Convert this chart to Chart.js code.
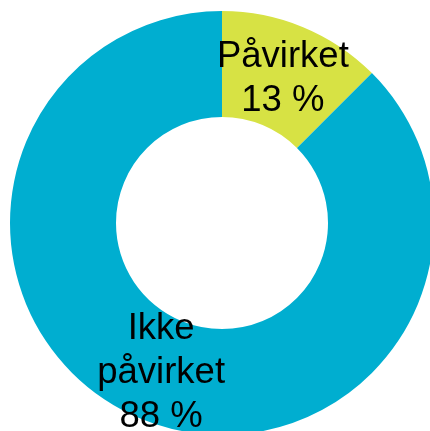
<!DOCTYPE html>
<html>
<head>
<meta charset="utf-8">
<script src="https://cdn.jsdelivr.net/npm/chart.js@4/dist/chart.umd.min.js"></script>
<style>
  html, body { margin: 0; padding: 0; background: #fff; overflow: hidden; }
  #wrap { width: 430px; height: 431px; overflow: hidden; position: relative; }
  canvas { position: absolute; left: 0; top: 0; }
</style>
</head>
<body>
<div id="wrap"><canvas id="donut" width="444" height="446"></canvas></div>
<script>
const categories = [['Påvirket'], ['Ikke', 'påvirket']];
const shares = [12.5, 87.5];
const colors = ['#d7e244', '#00aed0'];

// draws "name / NN %" in the middle of each ring segment
const sliceLabels = {
  id: 'sliceLabels',
  afterDatasetsDraw(chart) {
    const ctx = chart.ctx;
    const meta = chart.getDatasetMeta(0);
    const data = chart.data.datasets[0].data;
    const total = data.reduce((a, b) => a + b, 0);
    const size = 36.5;
    const lh = 44;
    ctx.save();
    ctx.font = size + 'px "Liberation Sans", Arial, sans-serif';
    ctx.fillStyle = '#000';
    ctx.textAlign = 'center';
    ctx.textBaseline = 'alphabetic';
    meta.data.forEach((arc, i) => {
      const p = arc.tooltipPosition();
      const lines = chart.data.labels[i].concat([Math.round(data[i] / total * 100) + ' %']);
      const top = p.y - (lines.length - 1) * lh / 2;
      lines.forEach((t, j) => {
        ctx.fillText(t, p.x, top + j * lh + size * 0.358);
      });
    });
    ctx.restore();
  }
};

new Chart(document.getElementById('donut').getContext('2d'), {
  type: 'doughnut',
  data: {
    labels: categories,
    datasets: [{
      data: shares,
      backgroundColor: colors,
      borderWidth: 0
    }]
  },
  options: {
    responsive: false,
    animation: false,
    cutout: '50%',
    layout: { padding: { left: 10, right: 10, top: 11, bottom: 11 } },
    plugins: {
      legend: { display: false },
      tooltip: { enabled: false }
    }
  },
  plugins: [sliceLabels]
});
</script>
</body>
</html>
